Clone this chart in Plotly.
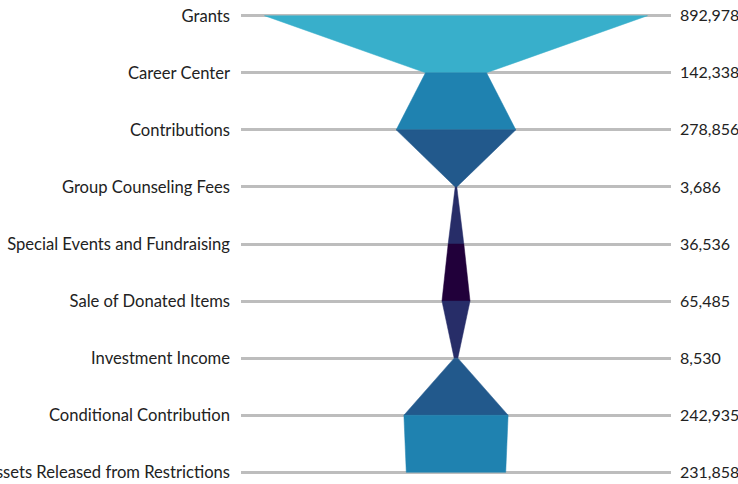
import plotly.graph_objects as go

categories = ["Grants", "Career Center", "Contributions", "Group Counseling Fees",
              "Special Events and Fundraising", "Sale of Donated Items",
              "Investment Income", "Conditional Contribution",
              "Assets Released from Restrictions"]
values = [892978, 142338, 278856, 3686, 36536, 65485, 8530, 242935, 231858]
segment_colors = ["#38AFCB", "#1F82B0", "#22598C", "#272D68", "#21003A",
                  "#272D68", "#22598C", "#1F82B0"]

fig = go.Figure()
n = len(values)
for i in range(n - 1):
    a, b = values[i], values[i + 1]
    fig.add_trace(go.Scatter(
        x=[-a / 2, a / 2, b / 2, -b / 2, -a / 2],
        y=[i, i, i + 1, i + 1, i],
        fill="toself", fillcolor=segment_colors[i],
        mode="lines", line=dict(width=0.5, color=segment_colors[i]),
        hoverinfo="skip", showlegend=False))

# invisible trace for right axis
fig.add_trace(go.Scatter(x=[0] * n, y=list(range(n)), yaxis="y2",
                         mode="markers", marker=dict(opacity=0),
                         hoverinfo="skip", showlegend=False))

vmax = max(values)
plot_half_px = 215   # half of plot-area width
funnel_half_px = 191.5
xr = [-plot_half_px / funnel_half_px * vmax / 2, plot_half_px / funnel_half_px * vmax / 2]

font = dict(family="Lato", size=16.6, color="#222222")
font_r = dict(family="Lato", size=16, color="#222222")
fig.update_layout(
    width=738, height=484,
    margin=dict(l=241, r=67, t=10, b=6, autoexpand=False),
    paper_bgcolor="white", plot_bgcolor="white",
    font=font,
    xaxis=dict(range=xr, visible=False, automargin=False),
    yaxis=dict(range=[n - 1 + 0.1, -0.1], tickmode="array",
               tickvals=list(range(n)), ticktext=categories,
               showgrid=True, gridcolor="#BDBDBD", gridwidth=3,
               zeroline=False, showline=False, ticks="", ticklabelstandoff=10,
               tickfont=font, automargin=False),
    yaxis2=dict(range=[n - 1 + 0.1, -0.1], overlaying="y", side="right",
                tickmode="array", tickvals=list(range(n)),
                ticktext=[f"{v:,}" for v in values],
                showgrid=False, zeroline=False, showline=False, ticks="",
                ticklabelstandoff=8, tickfont=font_r, automargin=False),
)
fig.write_html("out.html", config={"displayModeBar": False},
               post_script="document.body.style.margin='0';")
